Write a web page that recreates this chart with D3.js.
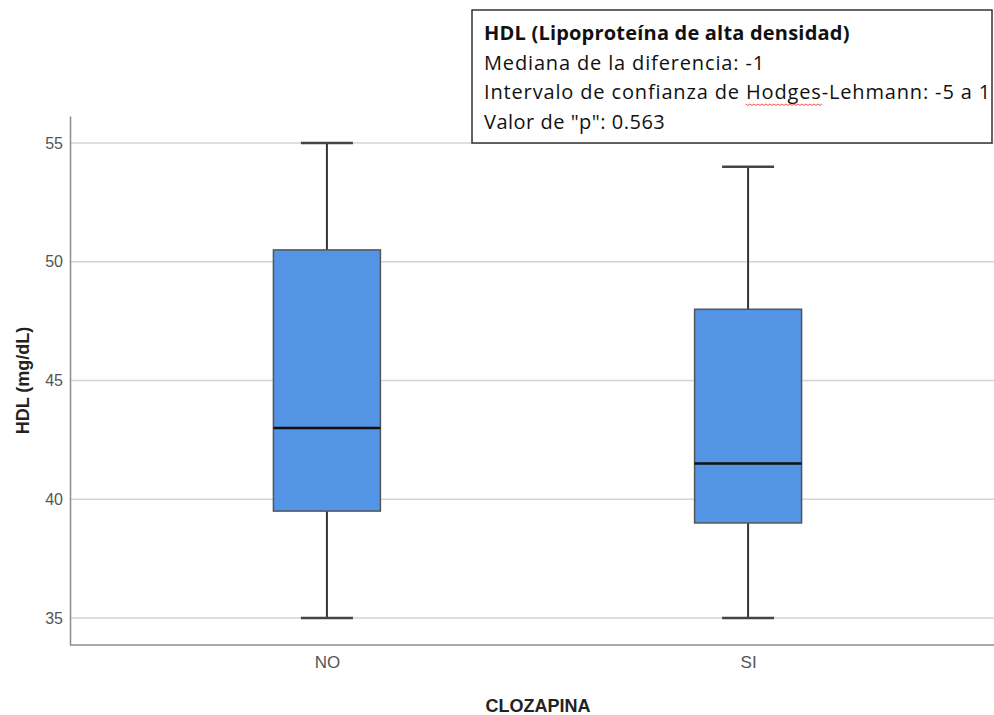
<!DOCTYPE html>
<html>
<head>
<meta charset="utf-8">
<script src="https://cdn.jsdelivr.net/npm/d3@7"></script>
<style>
  body { margin: 0; background: #fff; }
  svg { display: block; }
</style>
</head>
<body>
<svg id="chart" width="994" height="715"></svg>
<script>
// Data
const groups = ['NO', 'SI'];
const mins = [35, 35];
const q1s = [39.5, 39];
const medians = [43, 41.5];
const q3s = [50.5, 48];
const maxs = [55, 54];
const yTicks = [35, 40, 45, 50, 55];
const annotLines = [
  'HDL (Lipoproteína de alta densidad)',
  'Mediana de la diferencia: -1',
  'Intervalo de confianza de Hodges-Lehmann: -5 a 1',
  'Valor de "p": 0.563'
];

const boxes = groups.map((g, i) => ({
  group: g, min: mins[i], q1: q1s[i], median: medians[i], q3: q3s[i], max: maxs[i]
}));

const svg = d3.select('#chart');
const width = 994, height = 715;
const plotLeft = 70, plotTop = 116, plotBottom = 645;

const y = d3.scaleLinear().domain([33.86, 56.14]).range([plotBottom, plotTop]);
const x = d3.scalePoint().domain(groups).range([plotLeft, 1005]).padding(0.61);

const boxW = 107, capW = 52;

// Gridlines
svg.append('g').selectAll('line')
  .data(yTicks)
  .join('line')
  .attr('x1', plotLeft).attr('x2', width)
  .attr('y1', d => y(d)).attr('y2', d => y(d))
  .attr('stroke', '#d4d4d4').attr('stroke-width', 1.5);

// Axes
const yAxis = svg.append('g')
  .attr('transform', `translate(${plotLeft},0)`)
  .call(d3.axisLeft(y).tickValues(yTicks).tickSize(0).tickPadding(7));
yAxis.select('.domain').attr('stroke', '#8c8c8c').attr('stroke-width', 1.5);
yAxis.selectAll('text')
  .attr('font-family', '"Liberation Sans Narrow", "Liberation Sans", Arial, sans-serif')
  .attr('font-size', 16).attr('fill', '#555');

const xAxis = svg.append('g')
  .attr('transform', `translate(0,${plotBottom})`)
  .call(d3.axisBottom(x).tickSize(0).tickPadding(11));
xAxis.select('.domain').attr('d', `M${plotLeft},0H${width}`)
  .attr('stroke', '#8c8c8c').attr('stroke-width', 1.5);
xAxis.selectAll('text')
  .attr('font-family', 'Liberation Sans, Arial, sans-serif')
  .attr('font-size', 17).attr('fill', '#555');

// Axis titles
svg.append('text')
  .attr('transform', `translate(29,${(plotTop + plotBottom) / 2}) rotate(-90)`)
  .attr('text-anchor', 'middle')
  .attr('font-family', 'Liberation Sans, Arial, sans-serif')
  .attr('font-weight', 'bold').attr('font-size', 18).attr('fill', '#222')
  .text('HDL (mg/dL)');

svg.append('text')
  .attr('x', 538).attr('y', 712)
  .attr('text-anchor', 'middle')
  .attr('font-family', 'Liberation Sans, Arial, sans-serif')
  .attr('font-weight', 'bold').attr('font-size', 18).attr('fill', '#222')
  .text('CLOZAPINA');

// Boxplots
const bg = svg.append('g').selectAll('g')
  .data(boxes)
  .join('g');

bg.append('line')
  .attr('x1', d => x(d.group)).attr('x2', d => x(d.group))
  .attr('y1', d => y(d.max)).attr('y2', d => y(d.q3))
  .attr('stroke', '#333').attr('stroke-width', 2);
bg.append('line')
  .attr('x1', d => x(d.group)).attr('x2', d => x(d.group))
  .attr('y1', d => y(d.q1)).attr('y2', d => y(d.min))
  .attr('stroke', '#333').attr('stroke-width', 2);

bg.selectAll('.cap')
  .data(d => [d.min, d.max].map(v => ({ g: d.group, v })))
  .join('line')
  .attr('class', 'cap')
  .attr('x1', d => x(d.g) - capW / 2).attr('x2', d => x(d.g) + capW / 2)
  .attr('y1', d => y(d.v)).attr('y2', d => y(d.v))
  .attr('stroke', '#444').attr('stroke-width', 2.5);

bg.append('rect')
  .attr('x', d => x(d.group) - boxW / 2)
  .attr('width', boxW)
  .attr('y', d => y(d.q3))
  .attr('height', d => y(d.q1) - y(d.q3))
  .attr('fill', '#5394e4')
  .attr('stroke', '#555').attr('stroke-width', 1.5);

bg.append('line')
  .attr('x1', d => x(d.group) - boxW / 2).attr('x2', d => x(d.group) + boxW / 2)
  .attr('y1', d => y(d.median)).attr('y2', d => y(d.median))
  .attr('stroke', '#111').attr('stroke-width', 2.5);

// Annotation box
const ann = svg.append('g');
ann.append('rect')
  .attr('x', 472).attr('y', 10)
  .attr('width', 520).attr('height', 133)
  .attr('fill', '#fff').attr('stroke', '#333').attr('stroke-width', 1.5);

const annText = ann.selectAll('text')
  .data(annotLines)
  .join('text')
  .attr('x', 484)
  .attr('y', (d, i) => 40 + i * 29.5)
  .attr('font-family', '"Open Sans", Lato, sans-serif')
  .attr('font-size', 20)
  .attr('font-weight', (d, i) => i === 0 ? 'bold' : 'normal')
  .attr('letter-spacing', (d, i) => i === 0 ? 0.2 : (i === 3 ? 0.5 : 0.85))
  .attr('fill', '#111')
  .text(d => d);

// spell-check squiggle under "Hodges"
const line3 = annText.nodes()[2];
const s = annotLines[2];
const hStart = s.indexOf('Hodges');
const x0 = line3.getStartPositionOfChar(hStart).x;
const x1 = line3.getEndPositionOfChar(hStart + 5).x;
const wy = 40 + 2 * 29.5 + 5;
let wave = `M${x0},${wy}`;
for (let px = x0, k = 0; px < x1; px += 2, k++) {
  wave += `L${px + 2},${wy + (k % 2 === 0 ? 1.5 : 0)}`;
}
ann.append('path').attr('d', wave).attr('fill', 'none')
  .attr('stroke', '#e02020').attr('stroke-width', 0.8);
</script>
</body>
</html>
